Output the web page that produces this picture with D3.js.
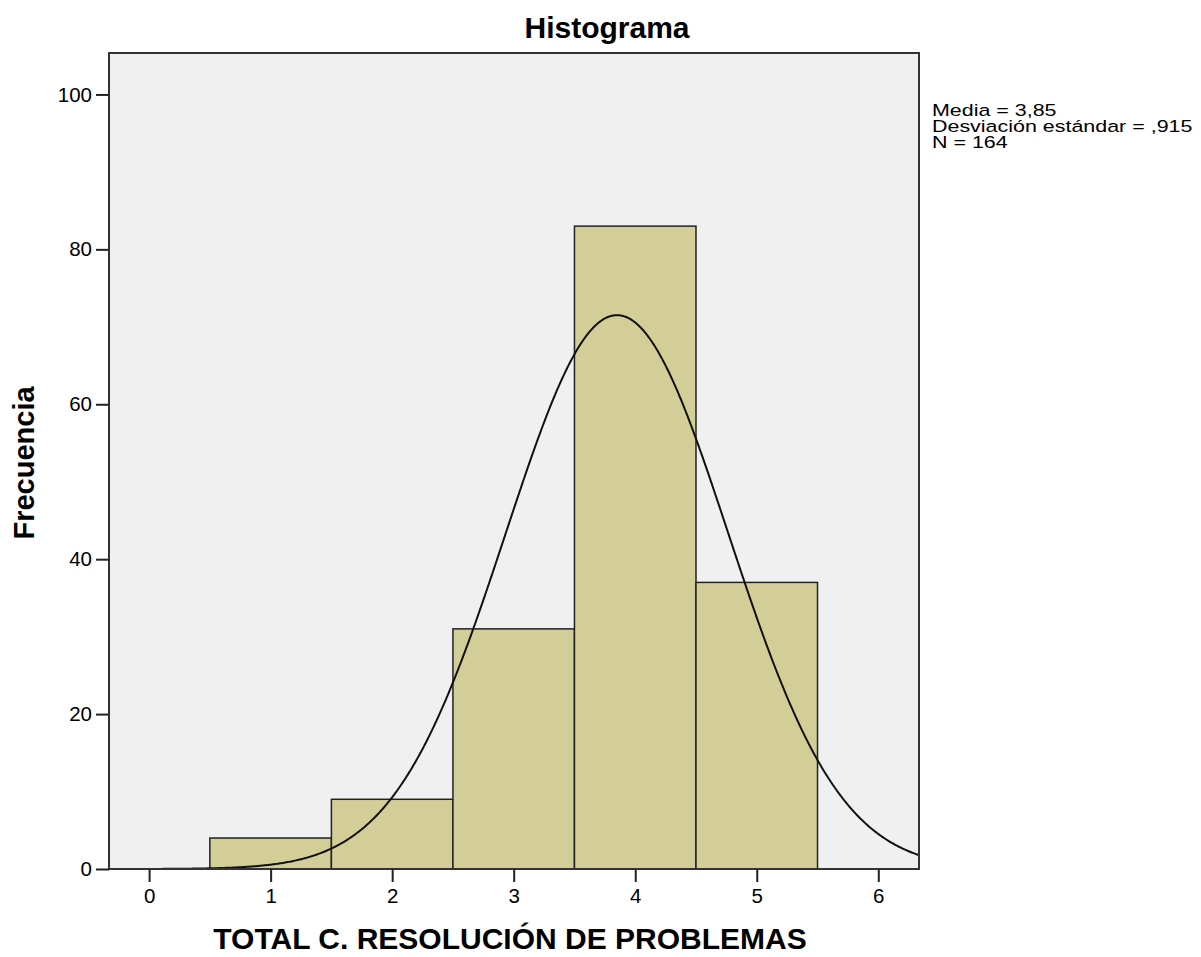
<!DOCTYPE html>
<html lang="es">
<head>
<meta charset="utf-8">
<title>Histograma</title>
<script src="https://cdn.jsdelivr.net/npm/d3@7"></script>
<style>
  body { margin: 0; background: #fff; }
  text { font-family: "Liberation Sans", Arial, sans-serif; fill: #000; }
</style>
</head>
<body>
<div id="chart"></div>
<script>
// bins of the histogram
var binStart = [0.5, 1.5, 2.5, 3.5, 4.5]
var binEnd = [1.5, 2.5, 3.5, 4.5, 5.5]
var counts = [4, 9, 31, 83, 37]
var xTicks = [0, 1, 2, 3, 4, 5, 6]
var yTicks = [0, 20, 40, 60, 80, 100]
var stats = ["Media = 3,85", "Desviación estándar = ,915", "N = 164"]
var media = 3.85, sd = 0.915, n = 164

var w = 1201, h = 957
var pLeft = 109, pRight = 919, pTop = 53, pBottom = 869

var svg = d3.select("#chart").append("svg")
  .attr("width", w).attr("height", h)

var x = d3.scaleLinear().domain([-0.33, 6.335]).range([pLeft, pRight])
var y = d3.scaleLinear().domain([0, 105.35]).range([pBottom, pTop])

svg.append("rect")
  .attr("x", pLeft).attr("y", pTop)
  .attr("width", pRight - pLeft).attr("height", pBottom - pTop)
  .attr("fill", "#f0f0f0")

svg.selectAll("rect.bar")
  .data(counts)
  .enter()
  .append("rect")
  .attr("class", "bar")
  .attr("x", function(d, i) { return x(binStart[i]) })
  .attr("y", function(d) { return y(d) })
  .attr("width", function(d, i) { return x(binEnd[i]) - x(binStart[i]) })
  .attr("height", function(d) { return pBottom - y(d) })
  .attr("fill", "#d3ce97")
  .attr("stroke", "#222")
  .attr("stroke-width", 1.5)

// normal curve from the stats shown on the chart
var pts = d3.range(-0.33, 6.336, 0.01).map(function(v) {
  var z = (v - media) / sd
  return [v, n * Math.exp(-0.5 * z * z) / (sd * Math.sqrt(2 * Math.PI))]
})
svg.append("path")
  .datum(pts)
  .attr("d", d3.line().x(function(d) { return x(d[0]) }).y(function(d) { return y(d[1]) }))
  .attr("fill", "none")
  .attr("stroke", "#111")
  .attr("stroke-width", 2)

// frame
svg.append("rect")
  .attr("x", pLeft).attr("y", pTop)
  .attr("width", pRight - pLeft).attr("height", pBottom - pTop)
  .attr("fill", "none")
  .attr("stroke", "#333")
  .attr("stroke-width", 2)

var xAxis = d3.axisBottom(x).tickValues(xTicks).tickFormat(d3.format("d")).tickSize(13).tickPadding(6)
var yAxis = d3.axisLeft(y).tickValues(yTicks).tickFormat(d3.format("d")).tickSize(13).tickPadding(4)

var gx = svg.append("g")
  .attr("transform", "translate(0," + pBottom + ")")
  .call(xAxis)
var gy = svg.append("g")
  .attr("transform", "translate(" + pLeft + ",0)")
  .call(yAxis)

;[gx, gy].forEach(function(g) {
  g.select(".domain").remove()
  g.selectAll("line").attr("stroke", "#222").attr("stroke-width", 2)
  g.selectAll("text").style("font-size", "20.5px")
    .style("font-family", "Liberation Sans, Arial, sans-serif").attr("fill", "#000")
})

svg.append("text")
  .attr("x", 607).attr("y", 38)
  .attr("text-anchor", "middle")
  .style("font-size", "30px").style("font-weight", "bold")
  .text("Histograma")

svg.append("text")
  .attr("x", 510).attr("y", 949)
  .attr("text-anchor", "middle")
  .style("font-size", "30px").style("font-weight", "bold")
  .text("TOTAL C. RESOLUCIÓN DE PROBLEMAS")

svg.append("text")
  .attr("transform", "translate(34,463) rotate(-90)")
  .attr("text-anchor", "middle")
  .style("font-size", "29px").style("font-weight", "bold")
  .text("Frecuencia")

svg.selectAll("text.stat")
  .data(stats)
  .enter()
  .append("text")
  .attr("class", "stat")
  .attr("transform", function(d, i) { return "translate(932," + (116 + i * 16) + ") scale(1.3,1)" })
  .style("font-size", "16.5px")
  .text(function(d) { return d })
</script>
</body>
</html>
